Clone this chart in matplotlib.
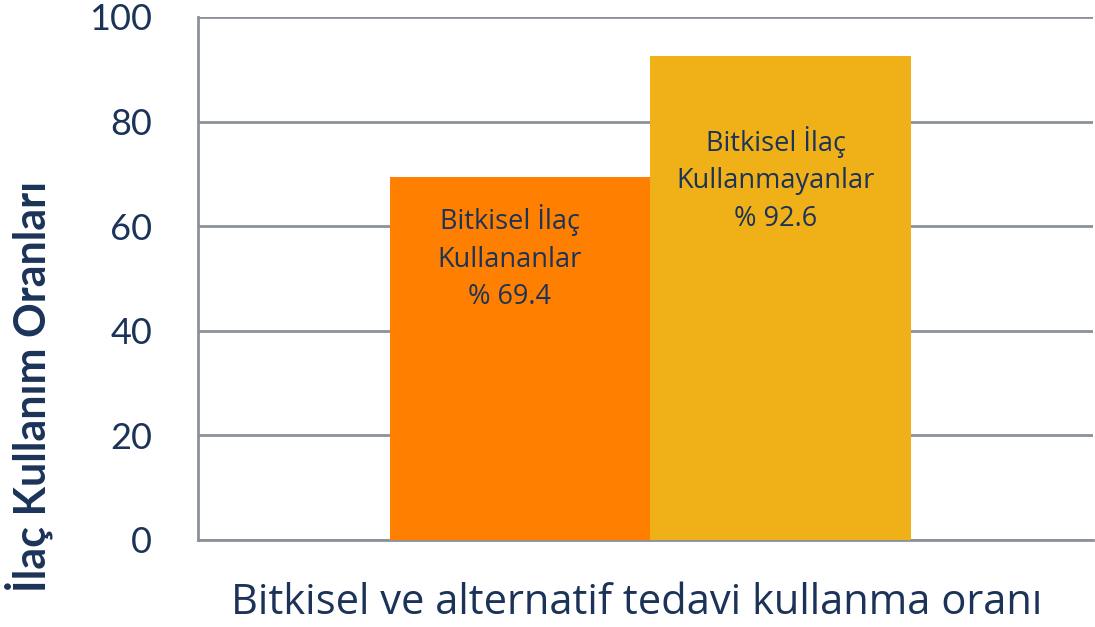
import matplotlib.pyplot as plt

# Veriler
kategoriler = ["Bitkisel İlaç\nKullananlar", "Bitkisel İlaç\nKullanmayanlar"]
oranlar = [69.4, 92.6]
renkler = ["#FF8000", "#F0B018"]
y_ticks = [0, 20, 40, 60, 80, 100]

# Etiketlerin dikey konumu (veri birimi)
etiket_y = [54.0, 69.0]
etiket_dx = [-0.04, -0.02]

lacivert = "#1B3358"
gri = "#8C9099"

plt.rcParams['font.family'] = ['Lato', 'DejaVu Sans']

fig = plt.figure(figsize=(10.95, 6.27), dpi=100)
ax = fig.add_axes([0.1808, 0.1388, 0.8172, 0.8341])

x = list(range(len(oranlar)))
ax.bar(x, oranlar, width=1.0, color=renkler, zorder=3)

for i, (kat, v) in enumerate(zip(kategoriler, oranlar)):
    ax.text(i + etiket_dx[i], etiket_y[i], f"{kat}\n% {v}", ha="center", va="center",
            fontsize=19.5, color=lacivert, linespacing=1.45, zorder=4,
            family=['Open Sans', 'DejaVu Sans'])

ax.set_xlim(-1.2356, 2.197)
ax.set_ylim(0, 100)
ax.set_yticks(y_ticks)
ax.set_xticks([])
ax.yaxis.grid(True, color=gri, linewidth=2, zorder=0)
ax.tick_params(axis="y", length=0, pad=33, labelsize=26, labelcolor=lacivert)

for s in ["top", "right"]:
    ax.spines[s].set_visible(False)
for s in ["left", "bottom"]:
    ax.spines[s].set_color(gri)
    ax.spines[s].set_linewidth(2)

ax.set_xlabel("Bitkisel ve alternatif tedavi kullanma oranı", fontsize=30,
              color=lacivert, family=['Open Sans', 'DejaVu Sans'])
ax.xaxis.set_label_coords(0.49, -0.08)
ax.set_ylabel("İlaç Kullanım Oranları", fontsize=31, fontweight="bold",
              color=lacivert)
ax.yaxis.set_label_coords(-0.162, 0.293)

plt.savefig("out.png", dpi=100)
